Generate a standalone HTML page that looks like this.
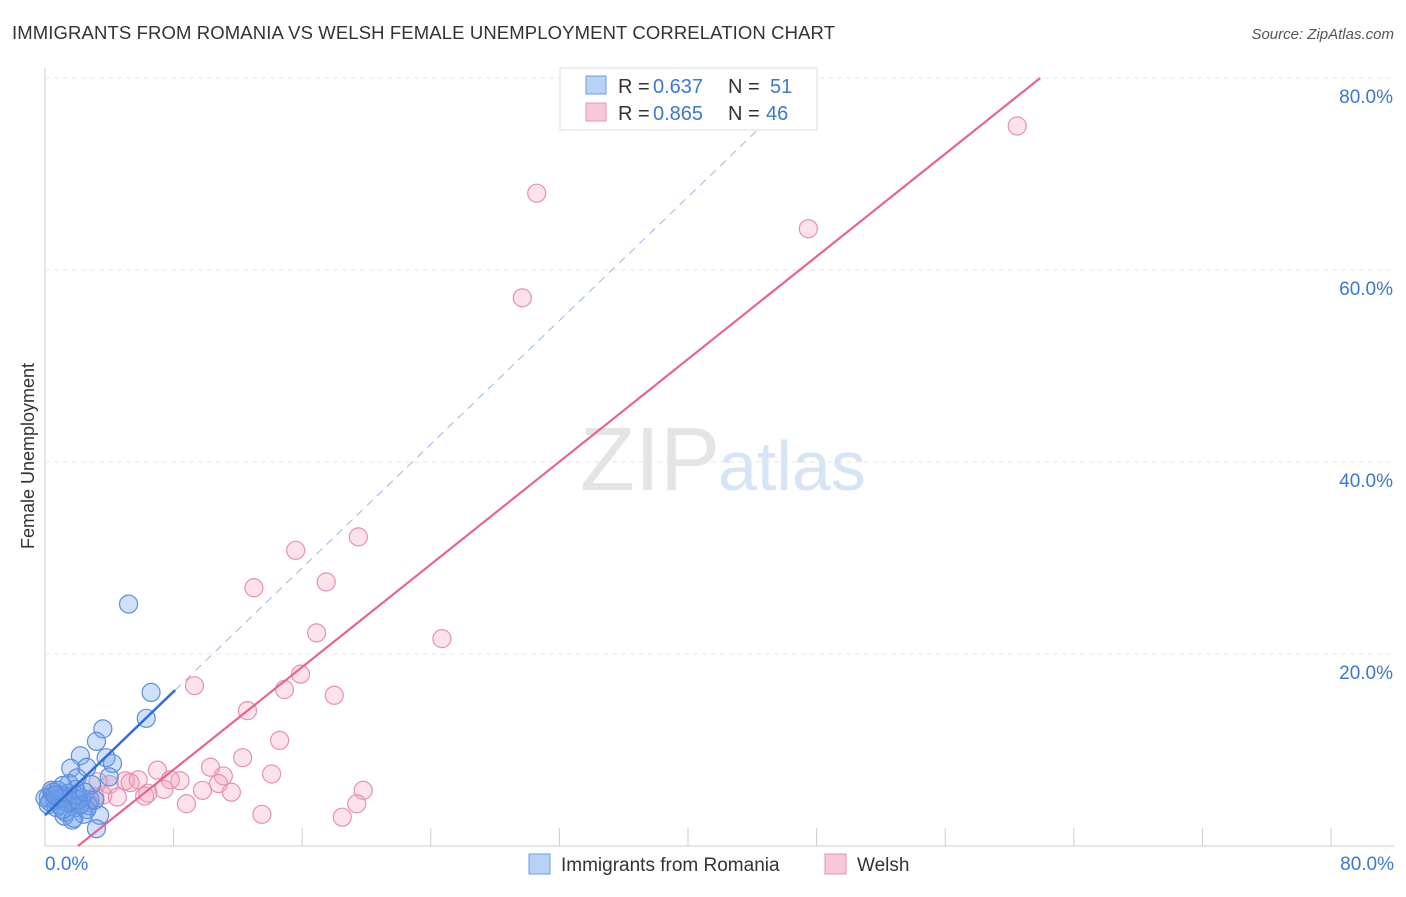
<!DOCTYPE html>
<html><head><meta charset="utf-8"><style>
body{margin:0;background:#fff;font-family:"Liberation Sans",sans-serif;}
svg text{font-family:"Liberation Sans",sans-serif;}
</style></head><body>
<svg id="chart" width="1406" height="892">
<text x="12" y="39" font-size="18.5" fill="#333" textLength="823">IMMIGRANTS FROM ROMANIA VS WELSH FEMALE UNEMPLOYMENT CORRELATION CHART</text>
<text x="1394" y="39" font-size="15" fill="#555" font-style="italic" text-anchor="end">Source: ZipAtlas.com</text>
<text x="34" y="456" font-size="18" fill="#333" text-anchor="middle" transform="rotate(-90 34 456)">Female Unemployment</text>
<text x="720" y="490" font-size="90" fill="#e4e4e4" text-anchor="end" font-family="Liberation Serif">ZIP</text>
<text x="718" y="490" font-size="70" fill="#d6e4f6">atlas</text>
<g id="grid"></g><g id="pts"></g><g id="lines"></g>
<g>
<rect x="560" y="68" width="257" height="62" fill="#fff" stroke="#ddd"/>
<rect x="586" y="76" width="20" height="18" fill="#b8d2f5" stroke="#6a9be0"/>
<text x="618" y="93" font-size="20" fill="#333">R =</text>
<text x="653" y="93" font-size="20" fill="#3a78d8">0.637</text>
<text x="728" y="93" font-size="20" fill="#333">N =</text>
<text x="770" y="93" font-size="20" fill="#3a78d8">51</text>
<rect x="586" y="103" width="20" height="18" fill="#f9c8d8" stroke="#e890b0"/>
<text x="618" y="120" font-size="20" fill="#333">R =</text>
<text x="653" y="120" font-size="20" fill="#3a78d8">0.865</text>
<text x="728" y="120" font-size="20" fill="#333">N =</text>
<text x="766" y="120" font-size="20" fill="#3a78d8">46</text>
</g>
<g>
<rect x="529" y="854" width="21" height="20" fill="#b8d2f5" stroke="#6a9be0"/>
<text x="561" y="871" font-size="19" fill="#333">Immigrants from Romania</text>
<rect x="825" y="854" width="21" height="20" fill="#f9c8d8" stroke="#e890b0"/>
<text x="857" y="871" font-size="19" fill="#333">Welsh</text>
</g>
</svg>
<script>
const xTicks=[0,10,20,30,40,50,60,70,80];
const yTicks=[20,40,60,80];
const blueX=[5.2,6.6,6.3,3.6,3.2,2.2,3.8,4.2,1.6,2.6,2.0,4.0,2.9,1.9,1.1,0.4,0.8,1.2,0.2,0.6,1.6,2.3,2.7,1.9,1.3,2.4,1.2,1.7,3.4,3.2,0.3,0.9,1.4,2.1,0.0,0.5,0.7,2.8,1.5,1.8,2.6,1.1,0.2,2.2,1.4,0.8,1.9,2.5,1.1,0.6,3.1];
const blueY=[25.2,16.0,13.3,12.2,10.9,9.4,9.2,8.6,8.1,8.2,7.1,7.2,6.4,5.9,6.3,5.8,5.3,5.2,5.1,4.8,4.6,5.0,4.2,4.0,3.5,3.3,3.1,2.7,3.2,1.8,4.6,4.3,5.5,4.8,5.0,5.6,4.0,4.8,6.5,2.9,3.8,5.0,4.3,4.3,4.5,5.8,5.3,5.6,3.8,5.3,4.8];
const pinkX=[60.5,30.6,47.5,29.7,19.5,15.6,13.0,17.5,16.9,24.7,9.3,15.9,14.9,18.0,12.6,14.6,12.3,10.3,14.1,11.1,7.0,8.4,7.8,4.0,5.0,5.8,10.8,9.8,11.6,19.8,7.4,6.4,6.2,3.6,4.5,8.8,19.4,3.1,13.5,18.5,2.7,0.4,1.9,0.9,5.3,3.3];
const pinkY=[75.0,68.0,64.3,57.1,32.2,30.8,26.9,27.5,22.2,21.6,16.7,17.9,16.3,15.7,14.1,11.0,9.2,8.2,7.5,7.3,7.9,6.8,6.9,6.4,6.8,6.9,6.5,5.8,5.6,5.8,5.9,5.5,5.2,5.3,5.1,4.4,4.4,5.1,3.3,3.0,4.5,5.8,4.8,5.0,6.6,6.7];
const blueFit=[3.2,1.61];  // intercept, slope
const pinkFit=[-2.74,1.336];
const NS="http://www.w3.org/2000/svg";
const sx=v=>45+v*16.07, sy=v=>846-v*9.6;
function mk(tag,attrs,parent){const e=document.createElementNS(NS,tag);for(const k in attrs)e.setAttribute(k,attrs[k]);parent.appendChild(e);return e;}
const grid=document.getElementById('grid');
mk('line',{x1:45,y1:68,x2:45,y2:846,stroke:'#ccc'},grid);
mk('line',{x1:45,y1:846,x2:1394,y2:846,stroke:'#ccc'},grid);
yTicks.forEach(t=>{
 const l=mk('line',{x1:45,y1:sy(t),x2:1394,y2:sy(t),stroke:'#e6e6e6','stroke-dasharray':'5,4'},grid);
 
 
 const tx=mk('text',{x:1393,y:sy(t)+25,'font-size':19,fill:'#3a78d8','text-anchor':'end'},grid);
 tx.textContent=t.toFixed(1)+'%';
 
 
});
for(let i=1;i<=10;i++){const x=45+i*128.6;mk('line',{x1:x,y1:828,x2:x,y2:846,stroke:'#ccc'},grid);}
[[0,'start',45],[80,'end',1394]].forEach(([v,a,x])=>{
 const tx=mk('text',{x:x,y:870,'font-size':19,fill:'#3a78d8','text-anchor':a},grid);
 tx.textContent=v.toFixed(1)+'%';
 
 
});
const pts=document.getElementById('pts');
pinkX.forEach((x,i)=>{
 const c=mk('circle',{cx:sx(x),cy:sy(pinkY[i]),r:9,fill:'rgba(245,160,190,0.3)',stroke:'#e890b0','stroke-width':1.2},pts);
 
 
});
blueX.forEach((x,i)=>{
 const c=mk('circle',{cx:sx(x),cy:sy(blueY[i]),r:9,fill:'rgba(110,160,235,0.32)',stroke:'#5a8fdc','stroke-width':1.2},pts);
 
 
});
const lines=document.getElementById('lines');
const f=(fit,x)=>fit[0]+fit[1]*x;
let l1=mk('line',{x1:sx(0),y1:sy(f(blueFit,0)),x2:sx(8.1),y2:sy(f(blueFit,8.1)),stroke:'#2f6fd6','stroke-width':2.5},lines);


const xe=(75-blueFit[0])/blueFit[1];
let l2=mk('line',{x1:sx(8.1),y1:sy(f(blueFit,8.1)),x2:sx(xe),y2:sy(75),stroke:'#9bb8e4','stroke-width':1,'stroke-dasharray':'8,6'},lines);


const p0=-pinkFit[0]/pinkFit[1], p1=(80-pinkFit[0])/pinkFit[1];
let l3=mk('line',{x1:sx(p0),y1:sy(0),x2:sx(p1),y2:sy(80),stroke:'#e8638f','stroke-width':2.2},lines);


</script>
</body></html>
